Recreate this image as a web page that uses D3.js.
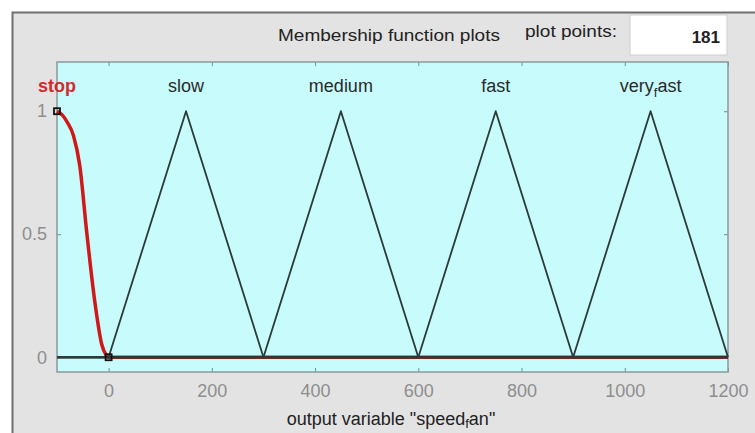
<!DOCTYPE html>
<html>
<head>
<meta charset="utf-8">
<script src="https://cdn.jsdelivr.net/npm/d3@7"></script>
<style>
  body { margin: 0; background: #fff; }
  #chart { width: 755px; height: 433px; }
</style>
</head>
<body>
<div id="chart"></div>
<script>
// membership functions of output variable "speed_fan"
const mfNames = ['slow', 'medium', 'fast', 'very_fast'];
const mfParams = [
  [0, 150, 300],
  [300, 450, 600],
  [600, 750, 900],
  [900, 1050, 1200]
];
// "stop" curve
const stopX = [-100, -90, -80, -68, -56, -42, -27, -13, -5, 0, 1200];
const stopY = [1, 0.985, 0.955, 0.9, 0.78, 0.5, 0.23, 0.05, 0.01, 0, 0];
const stopHandlesX = [-100, 0];
const stopHandlesY = [1, 0];
const xTicks = [0, 200, 400, 600, 800, 1000, 1200];
const yTicks = [0, 0.5, 1];
const plotPoints = '181';

const drawChart = (id) => {
  const width = 755;
  const height = 433;
  const plot = { left: 57, right: 728, top: 62, bottom: 372 };
  const font = '"Liberation Sans", Arial, sans-serif';

  const svg = d3
    .select(`#${id}`)
    .append('svg')
    .attr('width', width)
    .attr('height', height)
    .style('font-family', font);

  // window frame
  svg.append('rect')
    .attr('x', 12.5).attr('y', 12.5)
    .attr('width', width).attr('height', height)
    .attr('fill', '#e3e3e3')
    .attr('stroke', '#6e6e6e')
    .attr('stroke-width', 2);

  const x = d3.scaleLinear().domain([-100, 1200]).range([plot.left, plot.right]);
  const y = d3.scaleLinear().domain([-0.06, 1.2]).range([plot.bottom, plot.top]);

  svg.append('rect')
    .attr('x', plot.left).attr('y', plot.top)
    .attr('width', plot.right - plot.left)
    .attr('height', plot.bottom - plot.top)
    .attr('fill', '#c8fbfb');

  // header
  svg.append('text')
    .attr('x', 389).attr('y', 41)
    .attr('text-anchor', 'middle')
    .attr('font-size', 17)
    .attr('fill', '#222')
    .attr('textLength', 222)
    .attr('lengthAdjust', 'spacingAndGlyphs')
    .text('Membership function plots');
  svg.append('text')
    .attr('x', 571).attr('y', 37)
    .attr('text-anchor', 'middle')
    .attr('font-size', 17)
    .attr('fill', '#222')
    .attr('textLength', 92)
    .attr('lengthAdjust', 'spacingAndGlyphs')
    .text('plot points:');
  svg.append('rect')
    .attr('x', 630).attr('y', 15)
    .attr('width', 97).attr('height', 40)
    .attr('fill', '#fff')
    .attr('stroke', '#cfcfcf');
  svg.append('text')
    .attr('x', 720).attr('y', 43)
    .attr('text-anchor', 'end')
    .attr('font-size', 17)
    .attr('font-weight', 'bold')
    .attr('fill', '#222')
    .text(plotPoints);

  // axes (ticks inside, MATLAB style)
  const tickColor = '#7f8c8c';
  const labelColor = '#8e8e8e';
  const axBottom = svg.append('g')
    .attr('transform', `translate(0,${plot.bottom})`)
    .call(d3.axisBottom(x).tickValues(xTicks).tickSize(-4).tickPadding(12)
      .tickFormat(d3.format('d')));
  const axTop = svg.append('g')
    .attr('transform', `translate(0,${plot.top})`)
    .call(d3.axisTop(x).tickValues(xTicks).tickSize(-4).tickFormat(''));
  const axLeft = svg.append('g')
    .attr('transform', `translate(${plot.left},0)`)
    .call(d3.axisLeft(y).tickValues(yTicks).tickSize(-4).tickPadding(10)
      .tickFormat((d) => (d === 0.5 ? '0.5' : d3.format('d')(d))));
  const axRight = svg.append('g')
    .attr('transform', `translate(${plot.right},0)`)
    .call(d3.axisRight(y).tickValues(yTicks).tickSize(-4).tickFormat(''));

  [axBottom, axTop, axLeft, axRight].forEach((ax) => {
    ax.select('.domain').remove();
    ax.selectAll('line').attr('stroke', tickColor);
    ax.selectAll('text')
      .attr('fill', labelColor)
      .attr('font-size', 18)
      .attr('font-family', font);
  });

  svg.append('rect')
    .attr('x', plot.left).attr('y', plot.top)
    .attr('width', plot.right - plot.left)
    .attr('height', plot.bottom - plot.top)
    .attr('fill', 'none')
    .attr('stroke', '#8a9999')
    .attr('stroke-width', 1.5);

  const line = d3.line().x((d) => x(d[0])).y((d) => y(d[1]));

  // stop (selected, red)
  const stopPts = stopX.map((v, i) => [v, stopY[i]]);
  svg.append('path')
    .datum(stopPts)
    .attr('d', line.curve(d3.curveMonotoneX))
    .attr('fill', 'none')
    .attr('stroke', '#d01818')
    .attr('stroke-width', 3.5);
  line.curve(d3.curveLinear);

  // triangles
  mfParams.forEach((p) => {
    const pts = [[-100, 0], [p[0], 0], [p[1], 1], [p[2], 0], [1200, 0]];
    svg.append('path')
      .datum(pts)
      .attr('d', line)
      .attr('fill', 'none')
      .attr('stroke', '#2c3a3a')
      .attr('stroke-width', 1.8)
      .attr('stroke-linejoin', 'round');
  });

  // handles of the selected function
  svg.selectAll('.handle')
    .data(stopHandlesX.map((v, i) => [v, stopHandlesY[i]]))
    .enter()
    .append('rect')
    .attr('class', 'handle')
    .attr('x', (d) => x(d[0]) - 3)
    .attr('y', (d) => y(d[1]) - 3)
    .attr('width', 6)
    .attr('height', 6)
    .attr('fill', 'none')
    .attr('stroke', '#111')
    .attr('stroke-width', 1.8);

  // mf labels, underscore rendered as subscript (TeX style)
  const addLabel = (name, xv, color, weight) => {
    const t = svg.append('text')
      .attr('x', x(xv)).attr('y', y(1.08))
      .attr('text-anchor', 'middle')
      .attr('font-size', 18)
      .attr('font-weight', weight)
      .attr('fill', color);
    const parts = name.split('_');
    t.append('tspan').text(parts[0]);
    if (parts.length > 1) {
      t.append('tspan').attr('font-size', 13).attr('dy', 5).text(parts[1][0]);
      t.append('tspan').attr('dy', -5).text(parts[1].slice(1));
    }
  };
  addLabel('stop', -100, '#d42a2a', 'bold');
  mfNames.forEach((n, i) => addLabel(n, mfParams[i][1], '#2a2a2a', 'normal'));

  // x label
  const xl = svg.append('text')
    .attr('x', 391).attr('y', 425)
    .attr('text-anchor', 'middle')
    .attr('font-size', 18)
    .attr('fill', '#222');
  xl.append('tspan').text('output variable "speed');
  xl.append('tspan').attr('font-size', 13).attr('dy', 3).text('f');
  xl.append('tspan').attr('dy', -3).text('an"');
};

drawChart('chart');
</script>
</body>
</html>
